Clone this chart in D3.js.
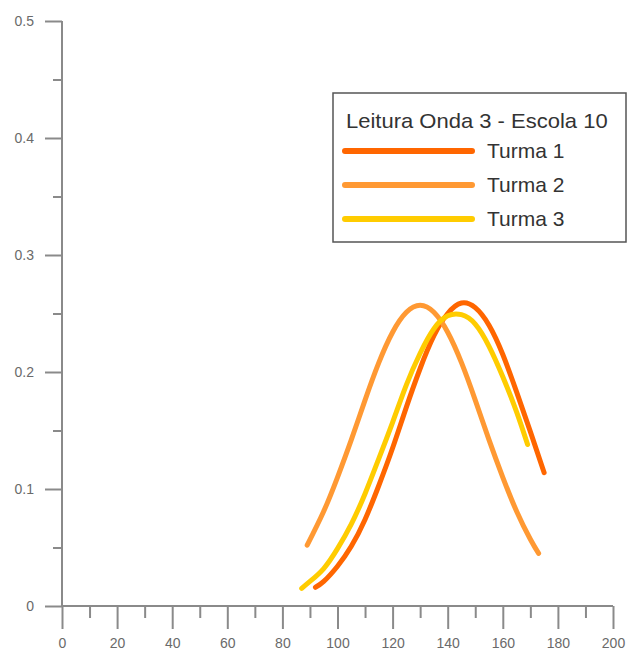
<!DOCTYPE html>
<html lang="pt">
<head>
<meta charset="UTF-8">
<title>Leitura Onda 3 - Escola 10</title>
<script src="https://d3js.org/d3.v7.min.js"></script>
<style>
body { margin: 0; background: #fff; }
text { font-family: "Liberation Sans", Arial, sans-serif; }
.tick text { fill: #6a6a6a; font-size: 14px; }
.tick line { stroke: #8a8a8a; stroke-width: 2; }
.axis-line { stroke: #8a8a8a; stroke-width: 2; }
.curve { fill: none; stroke-width: 5; stroke-linecap: round; stroke-linejoin: round; }
</style>
</head>
<body>
<svg width="628" height="659"></svg>
<script>
// values: [score, density]
const turma1 = [
  [92, 0.016], [95, 0.021], [100, 0.034], [105, 0.051], [110, 0.074],
  [115, 0.103], [120, 0.135], [125, 0.170], [130, 0.203], [135, 0.231],
  [140, 0.250], [145, 0.259], [150, 0.255], [155, 0.240], [160, 0.215],
  [165, 0.183], [170, 0.149], [175, 0.114]
];
const turma2 = [
  [89, 0.052], [95, 0.081], [100, 0.110], [105, 0.142], [110, 0.176],
  [115, 0.208], [120, 0.234], [125, 0.251], [130, 0.257], [135, 0.251],
  [140, 0.234], [145, 0.208], [150, 0.176], [155, 0.142], [160, 0.110],
  [165, 0.081], [170, 0.057], [173, 0.045]
];
const turma3 = [
  [87, 0.015], [90, 0.021], [95, 0.032], [100, 0.049], [105, 0.070],
  [110, 0.096], [115, 0.126], [120, 0.157], [125, 0.189], [130, 0.216],
  [135, 0.237], [140, 0.248], [145, 0.249], [150, 0.241], [155, 0.222],
  [160, 0.196], [165, 0.166], [169, 0.138]
];

const seriesNames = ['Turma 1', 'Turma 2', 'Turma 3'];
const seriesColors = ['#ff6600', '#ff9933', '#ffcc00'];
const legendTitle = 'Leitura Onda 3 - Escola 10';

const xMajorTicks = [0, 20, 40, 60, 80, 100, 120, 140, 160, 180, 200];
const xMinorTicks = [10, 30, 50, 70, 90, 110, 130, 150, 170, 190];
const yMajorTicks = [0, 0.1, 0.2, 0.3, 0.4, 0.5];
const yMinorTicks = [0.05, 0.15, 0.25, 0.35, 0.45];

const svg = d3.select('svg');

const x = d3.scaleLinear().domain([0, 200]).range([62, 613]);
const y = d3.scaleLinear().domain([0, 0.5]).range([606, 21]);

// axis lines
svg.append('line').attr('class', 'axis-line')
  .attr('x1', x(0)).attr('x2', x(200)).attr('y1', y(0)).attr('y2', y(0));
svg.append('line').attr('class', 'axis-line')
  .attr('x1', x(0)).attr('x2', x(0)).attr('y1', y(0.5)).attr('y2', y(0));

// x axis: minor then major ticks
svg.append('g')
  .attr('transform', `translate(0,${y(0)})`)
  .call(d3.axisBottom(x).tickValues(xMinorTicks).tickSize(12).tickFormat(''))
  .call(g => g.select('.domain').remove());
svg.append('g')
  .attr('transform', `translate(0,${y(0)})`)
  .call(d3.axisBottom(x).tickValues(xMajorTicks).tickSize(23).tickPadding(9).tickFormat(d3.format('d')))
  .call(g => g.select('.domain').remove());

// y axis
svg.append('g')
  .attr('transform', `translate(${x(0)},0)`)
  .call(d3.axisLeft(y).tickValues(yMinorTicks).tickSize(9).tickFormat(''))
  .call(g => g.select('.domain').remove());
svg.append('g')
  .attr('transform', `translate(${x(0)},0)`)
  .call(d3.axisLeft(y).tickValues(yMajorTicks).tickSize(17).tickPadding(11)
    .tickFormat(d => d === 0 ? '0' : d3.format('.1f')(d)))
  .call(g => g.select('.domain').remove());

svg.selectAll('.tick text').attr('font-family', null);

// curves
const line = d3.line()
  .x(d => x(d[0]))
  .y(d => y(d[1]))
  .curve(d3.curveNatural);

[turma1, turma2, turma3].forEach((s, i) => {
  svg.append('path')
    .attr('class', 'curve')
    .attr('d', line(s))
    .attr('stroke', seriesColors[i]);
});

// legend
const lg = svg.append('g').attr('transform', 'translate(333,93)');
lg.append('rect')
  .attr('width', 293).attr('height', 149)
  .attr('fill', '#fff').attr('stroke', '#555').attr('stroke-width', 1.5);
lg.append('text')
  .attr('transform', 'translate(13,35) scale(1.1,1)')
  .attr('font-size', 20).attr('fill', '#333')
  .text(legendTitle);

seriesNames.forEach((name, i) => {
  const ly = 58 + i * 34;
  lg.append('line')
    .attr('x1', 12).attr('x2', 139).attr('y1', ly).attr('y2', ly)
    .attr('stroke', seriesColors[i]).attr('stroke-width', 6)
    .attr('stroke-linecap', 'round');
  lg.append('text')
    .attr('transform', `translate(154,${ly + 7}) scale(1.05,1)`)
    .attr('font-size', 20).attr('fill', '#333')
    .text(name);
});
</script>
</body>
</html>
